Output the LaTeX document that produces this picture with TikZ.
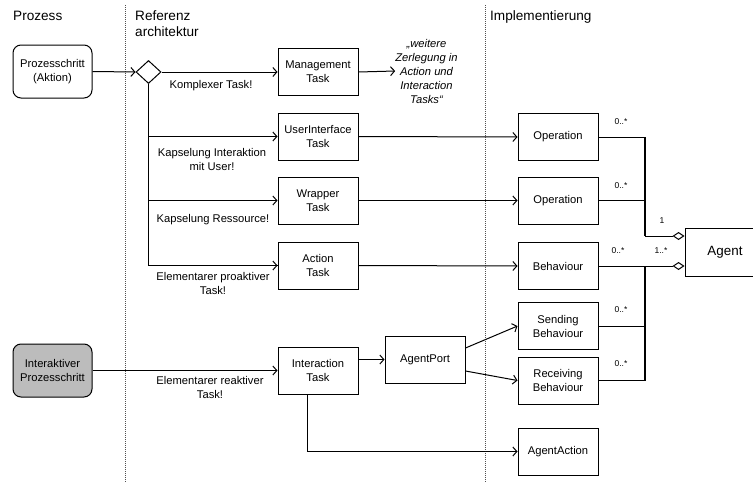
\documentclass[tikz,border=0pt]{standalone}
\usepackage{fontspec}
\setmainfont{Liberation Sans}
\usetikzlibrary{shapes.geometric,arrows.meta,calc}
\definecolor{boxgray}{RGB}{188,188,188}
\definecolor{sepgray}{RGB}{80,80,80}
\tikzset{
  box/.style={draw, line width=1pt, minimum width=80pt, minimum height=47pt, inner sep=1pt, align=center, font=\fontsize{11.2}{14}\selectfont},
  procbox/.style={draw, line width=1pt, rounded corners=8pt, minimum width=79pt, minimum height=53pt, inner sep=1pt, align=center, font=\fontsize{11.2}{14}\selectfont},
  conn/.style={line width=1pt, -{Straight Barb[length=4pt,width=9pt]}},
  plain/.style={line width=1pt},
  thickv/.style={line width=1.6pt},
  agg/.style={line width=1pt, -{Diamond[open,length=12pt,width=8pt,line width=1pt]}},
  lbl/.style={align=center, font=\fontsize{11.2}{14}\selectfont, inner sep=0pt},
  mult/.style={font=\fontsize{8.5}{10}\selectfont, inner sep=0pt},
  hdr/.style={font=\fontsize{13.6}{16}\selectfont, inner sep=0pt, anchor=west, align=left},
  sep/.style={sepgray, line width=0.9pt, dash pattern=on 1pt off 1pt}
}
\begin{document}
\begin{tikzpicture}[x=1pt,y=-1pt]
\useasboundingbox (0,0) rectangle (753,482);
% separators
\draw[sep] (125,5) -- (125,482);
\draw[sep] (485,5) -- (485,482);
% headers
\node[hdr] (hproz) at (13,16) {Prozess};
\node[hdr] (href1) at (135,16) {Referenz};
\node[hdr] (href2) at (135,32) {architektur};
\node[hdr] (himpl) at (490,17) {Implementierung};
% process
\node[procbox] (proz) at (52.5,71.5) {Prozesschritt\\(Aktion)};
\node[procbox, fill=boxgray] (iproz) at (52.5,370.5) {Interaktiver\\Prozesschritt};
\node[draw, diamond, line width=1pt, minimum width=25pt, minimum height=23pt, inner sep=0pt] (dia) at (148.5,72) {};
% tasks
\node[box] (mt) at (318,72) {Management\\Task};
\node[box] (ui) at (318,136.5) {UserInterface\\Task};
\node[box] (wr) at (318,200.5) {Wrapper\\Task};
\node[box] (at) at (318,265.5) {Action\\Task};
\node[box] (it) at (318,370.5) {Interaction\\Task};
\node[box] (ap) at (425,359.5) {AgentPort};
% implementation
\node[box] (op1) at (558,137) {Operation};
\node[box] (op2) at (558,200.5) {Operation};
\node[box] (beh) at (558,266) {Behaviour};
\node[box] (send) at (558,326) {Sending\\Behaviour};
\node[box] (recv) at (558,380.5) {Receiving\\Behaviour};
\node[box] (aact) at (558,451.5) {AgentAction};
\node[box, minimum width=80pt, minimum height=48pt, font=\fontsize{13.4}{16}\selectfont] (agent) at (725,252) {Agent};
% note
\node[lbl, font=\itshape\fontsize{11.2}{14}\selectfont] (zerl) at (426.5,71) {„weitere\\Zerlegung in\\Action und\\Interaction\\Tasks“};
% connectors process -> tasks
\draw[conn] (proz.east) -- (dia.west);
\draw[conn] (dia.east) -- (mt.west);
\draw[thickv] (dia.south) |- (at.west);
\draw[conn] (dia.south |- at.west) -- (at.west);
\draw[conn] (dia.south |- ui.west) -- (ui.west);
\draw[conn] (dia.south |- wr.west) -- (wr.west);
\draw[conn] (iproz.east) -- (it.west);
\draw[conn] (mt.east) -- (zerl.west);
% labels
\node[lbl] (l1) at (211,86) {Komplexer Task!};
\node[lbl] (l2) at (212,159) {Kapselung Interaktion\\mit User!};
\node[lbl] (l3) at (213,220) {Kapselung Ressource!};
\node[lbl] (l4) at (213,283) {Elementarer proaktiver\\Task!};
\node[lbl] (l5) at (210,387) {Elementarer reaktiver\\Task!};
% tasks -> implementation
\draw[conn] (ui.east) -- (op1.west);
\draw[conn] (wr.east) -- (op2.west);
\draw[conn] (at.east) -- (beh.west);
\draw[conn] (it.east |- ap.west) -- (ap.west);
\coordinate (apA) at ($(ap.east)+(0,-11.5)$);
\coordinate (apB) at ($(ap.east)+(0,11.5)$);
\draw[conn] (apA) -- (send.west);
\draw[conn] (apB) -- (recv.west);
\coordinate (itS) at ($(it.south)+(-11,0)$);
\draw[conn] (itS) |- (aact.west);
% aggregation
\coordinate (agA) at ($(agent.west)+(0,-16)$);
\coordinate (agB) at ($(agent.west)+(0,14)$);
\coordinate (j1) at (645,137);
\coordinate (j2) at (645,266);
\draw[plain] (op1.east) -- (j1);
\draw[thickv] (j1) -- (j1 |- agA);
\draw[agg] (j1 |- agA) -- (agA);
\draw[plain] (op2.east) -- (op2.east -| j1);
\draw[agg] (beh.east) -- (agB);
\draw[thickv] (j2) -- (j2 |- recv.east);
\draw[plain] (j2 |- recv.east) -- (recv.east);
\draw[plain] (send.east) -- (send.east -| j2);
% multiplicities
\node[mult] (m1) at (621,122) {0..*};
\node[mult] (m2) at (621,186) {0..*};
\node[mult] (m3) at (618,251) {0..*};
\node[mult] (m4) at (621,310) {0..*};
\node[mult] (m5) at (621,364) {0..*};
\node[mult] (m6) at (662,221) {1};
\node[mult] (m7) at (661,251) {1..*};
\end{tikzpicture}
\end{document}
